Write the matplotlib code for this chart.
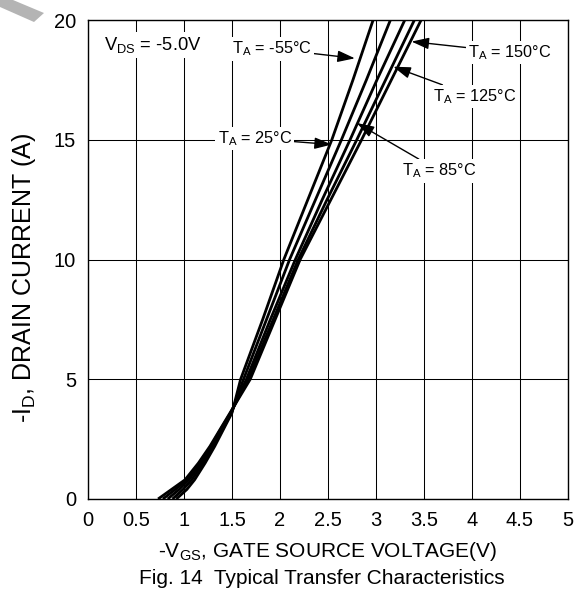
import matplotlib
matplotlib.use("Agg")
import matplotlib.pyplot as plt
from matplotlib.patches import Polygon

plt.rcParams['font.family'] = ['Liberation Sans', 'DejaVu Sans']
plt.rcParams['mathtext.fontset'] = 'custom'
plt.rcParams['mathtext.rm'] = 'Liberation Sans'
plt.rcParams['mathtext.it'] = 'Liberation Sans'
plt.rcParams['mathtext.default'] = 'regular'

# ---- data ----
current = [0, 0.4, 0.8, 1.5, 2.2, 2.9, 3.6, 5, 7.5, 10, 12.5, 15, 17.5, 20]
v_m55 = [0.92, 1.03, 1.11, 1.22, 1.32, 1.41, 1.50, 1.59, 1.82, 2.04, 2.29, 2.54, 2.76, 2.97]
v_25 = [0.88, 0.99, 1.08, 1.20, 1.30, 1.40, 1.495, 1.62, 1.86, 2.10, 2.37, 2.64, 2.90, 3.15]
v_85 = [0.83, 0.95, 1.05, 1.18, 1.29, 1.39, 1.49, 1.65, 1.90, 2.16, 2.44, 2.73, 3.01, 3.30]
v_125 = [0.78, 0.91, 1.03, 1.16, 1.28, 1.38, 1.485, 1.67, 1.93, 2.19, 2.49, 2.80, 3.10, 3.40]
v_150 = [0.73, 0.87, 1.01, 1.15, 1.27, 1.375, 1.48, 1.69, 1.95, 2.21, 2.53, 2.85, 3.16, 3.47]

x_ticks = [0, 0.5, 1, 1.5, 2, 2.5, 3, 3.5, 4, 4.5, 5]
x_tick_labels = ['0', '0.5', '1', '1.5', '2', '2.5', '3', '3.5', '4', '4.5', '5']
y_ticks = [0, 5, 10, 15, 20]
y_tick_labels = ['0', '5', '10', '15', '20']

W, H = 581, 593
fig = plt.figure(figsize=(W / 100, H / 100), dpi=100)
ax = fig.add_axes([88 / W, 1 - 499 / H, 480 / W, 479 / H])

for v in (v_m55, v_25, v_85, v_125, v_150):
    ax.plot(v, current, color='black', lw=2.0, solid_capstyle='butt', zorder=3)

ax.set_xlim(0, 5)
ax.set_ylim(0, 20)
ax.set_xticks(x_ticks)
ax.set_xticklabels(x_tick_labels)
ax.set_yticks(y_ticks)
ax.set_yticklabels(y_tick_labels)
ax.tick_params(length=0, labelsize=14.5)
ax.tick_params(axis='x', pad=8.5)
ax.tick_params(axis='y', pad=8.5)
ax.grid(True, color='black', lw=0.75)
ax.set_axisbelow(True)
for s in ax.spines.values():
    s.set_linewidth(1.0)

ax.set_xlabel(r'-V$_{\mathrm{GS}}$, GATE SOURCE VOLTAGE(V)', fontsize=15, va='baseline')
ax.xaxis.set_label_coords(0.5, (499 - 557) / 479)
ax.set_ylabel(r'-I$_{\mathrm{D}}$, DRAIN CURRENT (A)', fontsize=18, va='center')
ax.yaxis.set_label_coords((24 - 88) / 480, (499 - 278) / 479)
fig.text(322 / W, 1 - 584 / H, 'Fig. 14  Typical Transfer Characteristics',
         ha='center', va='baseline', fontsize=15)

bb = dict(boxstyle='square,pad=0.15', fc='white', ec='none')
ax.text(0.17, 18.95, r'V$_{\mathrm{DS}}$ = -5.0V', fontsize=13.2, ha='left', va='center', bbox=bb, zorder=4)

ap = dict(arrowstyle='-|>,head_length=0.9,head_width=0.3', color='black', lw=1.0,
          shrinkA=0, shrinkB=0)
fs = 11.7
ax.annotate(r'T$_{\mathrm{A}}$ = -55°C', xy=(2.78, 18.4), xytext=(1.5, 18.8),
            fontsize=fs, ha='left', va='center', bbox=bb, arrowprops=ap, zorder=4)
ax.annotate(r'T$_{\mathrm{A}}$ = 25°C', xy=(2.54, 14.8), xytext=(1.35, 15.05),
            fontsize=fs, ha='left', va='center', bbox=bb, arrowprops=ap, zorder=4)
ax.annotate(r'T$_{\mathrm{A}}$ = 150°C', xy=(3.37, 19.1), xytext=(3.96, 18.65),
            fontsize=fs, ha='left', va='center', bbox=bb, arrowprops=ap, zorder=4)
ax.annotate(r'T$_{\mathrm{A}}$ = 125°C', xy=(3.18, 18.05), xytext=(3.59, 16.8),
            fontsize=fs, ha='left', va='center', bbox=bb, arrowprops=ap, zorder=4)
ax.annotate(r'T$_{\mathrm{A}}$ = 85°C', xy=(2.8, 15.7), xytext=(3.27, 13.7),
            fontsize=fs, ha='left', va='center', bbox=bb, arrowprops=ap, zorder=4)

# grey watermark fragment in the top-left corner
verts = [(x, H - y) for x, y in [(0, 0), (13, 0), (44, 13), (34, 22), (0, 7)]]
wm = Polygon(verts, closed=True, fc='#b4b4b4', ec='none', transform=None)
fig.patches.append(wm)

fig.savefig('out.png', dpi=100)
